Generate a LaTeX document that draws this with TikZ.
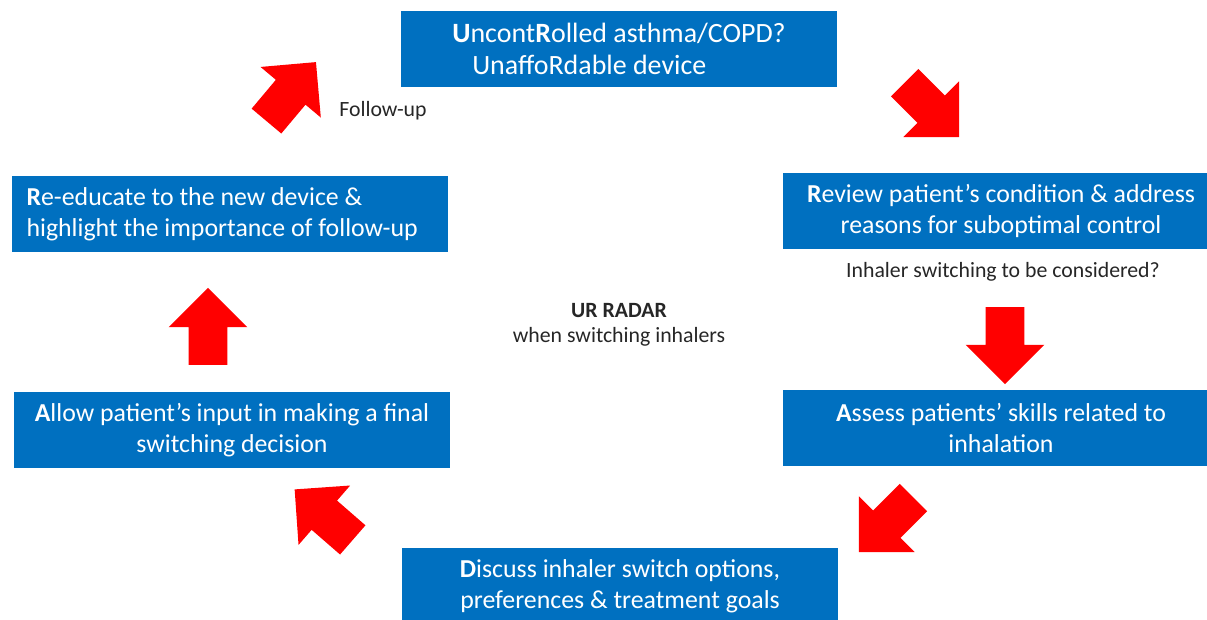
\documentclass[tikz,border=0pt]{standalone}
\usepackage{fontspec}
\setmainfont{Carlito}
\usepackage{xcolor}
\usepackage{tikz}
\usetikzlibrary{shapes.arrows}
\definecolor{boxblue}{RGB}{0,112,192}
\definecolor{arrowred}{RGB}{255,0,0}

\begin{document}
\begin{tikzpicture}[x=0.02cm,y=-0.02cm,
  stepbox/.style={fill=boxblue, text=white, minimum width=8.74cm, minimum height=1.52cm,
    align=center, inner sep=0pt, font=\fontsize{14.7}{17.6}\selectfont},
  bigarrow/.style={single arrow, fill=arrowred, minimum height=1.54cm, minimum width=1.56cm,
    single arrow head extend=0.4cm, inner xsep=0pt, inner ysep=0.38cm},
  note/.style={text=black!85, align=center, font=\fontsize{12.4}{14.2}\selectfont}]
  \clip (0,0) rectangle (1207,619);

  % the six steps
  \node[stepbox, align=left, font=\fontsize{15.9}{18.2}\selectfont] (uncontrolled) at (619,49)
    {\textbf{U}ncont\textbf{R}olled asthma/COPD?\\\hspace{0.4cm}UnaffoRdable device};
  \node[stepbox] (review) at (1001,211)
    {\textbf{R}eview patient’s condition \& address\\reasons for suboptimal control};
  \node[stepbox] (assess) at (1001,428)
    {\textbf{A}ssess patients’ skills related to\\inhalation};
  \node[stepbox] (discuss) at (620,586)
    {\textbf{D}iscuss inhaler switch options,\\preferences \& treatment goals};
  \node[stepbox] (allow) at (232,430)
    {\textbf{A}llow patient’s input in making a final\\switching decision};
  \node[stepbox, align=flush left, text width=8.14cm, inner xsep=0.3cm] (reeducate) at (230,214)
    {\textbf{R}e-educate to the new device \&\\highlight the importance of follow-up};

  % block arrows round the cycle
  \node[bigarrow, rotate=50] (arrowfollow) at (285,99) {};
  \node[bigarrow, rotate=-45] (arrowreview) at (925,103) {};
  \node[bigarrow, rotate=-90] (arrowassess) at (1005,336) {};
  \node[bigarrow, rotate=-135] (arrowdiscuss) at (893,518) {};
  \node[bigarrow, rotate=139] (arrowallow) at (331,521) {};
  \node[bigarrow, rotate=90] (arrowreeducate) at (208,336) {};

  % small texts
  \node[note] (followup) at (383,111) {Follow-up};
  \node[note] (switching) at (1003,272) {Inhaler switching to be considered?};
  \node[note] (radar) at (619,325) {\textbf{UR RADAR}\\when switching inhalers};
\end{tikzpicture}
\end{document}
